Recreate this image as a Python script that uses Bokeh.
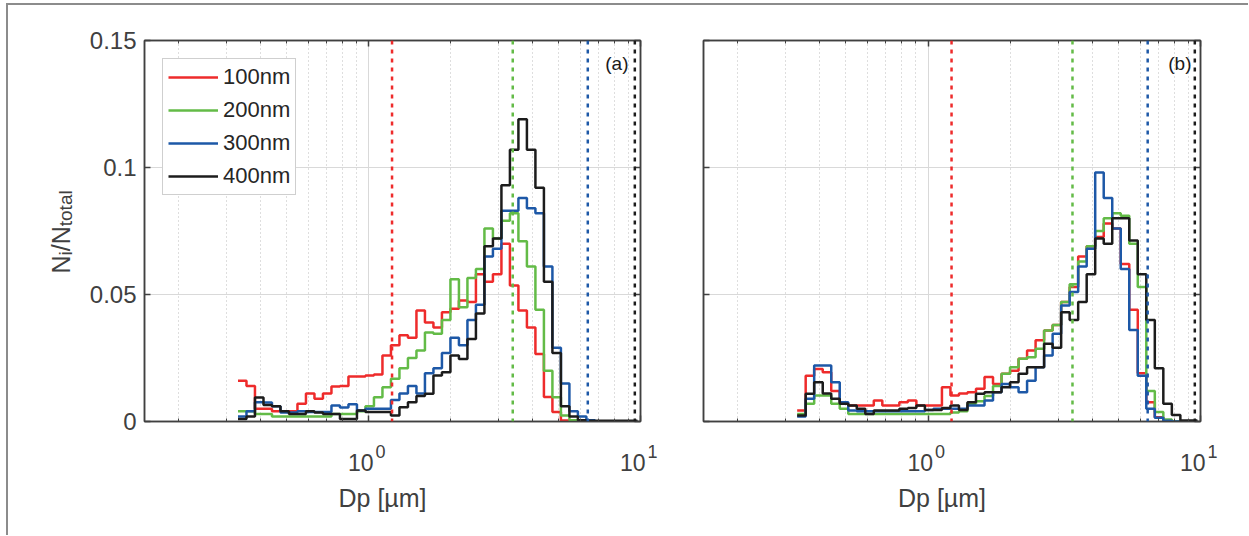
import math
from bokeh.plotting import figure
from bokeh.layouts import row, column
from bokeh.models import (LogAxis, LinearAxis, FixedTicker, Span, Label, Legend,
                          LegendItem, Range1d, CustomJSTickFormatter)
from bokeh.core.properties import value
from bokeh.embed import file_html
from bokeh.resources import INLINE

# ---------------- data ----------------
# logarithmic size bins (32 per decade), bin edges in micrometres
bin_edges = [round(0.331 * 10 ** (k / 32), 4) for k in range(48)]

series_names = ["100nm", "200nm", "300nm", "400nm"]
series_colors = ["#ee2b2b", "#63bb47", "#1d58a7", "#1c1c1c"]
cut_sizes = [1.22, 3.39, 6.40, 9.53]
y_ticks = [0, 0.05, 0.1, 0.15]
x_major_ticks = [1, 10]
x_tick_base = ["10", "10"]
x_tick_exp = ["0", "1"]
x_minor_ticks = [0.2, 0.3, 0.4, 0.5, 0.6, 0.7, 0.8, 0.9, 2, 3, 4, 5, 6, 7, 8, 9]
x_label = "Dp [\u00b5m]"
panel_tags = ["(a)", "(b)"]

# panel (a)
a_100 = [.016, .014, .005, .005, .004, .004, .004, .007, .011, .009, .011, .0138, .014, .0177,
         .0177, .0181, .0185, .026, .030, .034, .033, .0437, .039, .037, .043, .0444, .0476,
         .047, .058, .055, .058, .070, .0535, .0437, .037, .0266, .0096, .0037, .0004,
         0, 0, 0, 0, 0, 0, 0, 0]
a_200 = [.004, .004, .003, .003, .002, .002, .002, .002, .002, .002, .002, .003, .003, .003,
         .004, .006, .0095, .0135, .0168, .021, .025, .028, .035, .0345, .040, .056, .045,
         .0565, .060, .076, .072, .079, .082, .071, .061, .044, .020, .0095, .0024, .0005,
         0, 0, 0, 0, 0, 0, 0]
a_300 = [.002, .004, .0076, .0075, .006, .0035, .0035, .004, .0037, .0037, .0037, .0063, .0055,
         .0068, .0043, .005, .005, .005, .0085, .011, .014, .011, .019, .021, .027, .033, .030,
         .040, .046, .065, .068, .083, .083, .088, .084, .082, .061, .029, .015, .004, .002,
         .0005, 0, 0, 0, 0, 0]
a_400 = [.001, .002, .0094, .0065, .006, .004, .003, .003, .004, .0035, .003, .003, .001, .001,
         .0043, .0037, .0037, .0037, .0024, .0056, .0076, .010, .0109, .0181, .0194, .026,
         .0246, .0325, .0425, .069, .072, .093, .107, .119, .107, .092, .055, .027, .006, .002,
         .0005, .0003, .0003, .0003, .0003, .0003, .0003]

# panel (b)
b_100 = [.0043, .018, .0207, .0194, .012, .007, .0063, .0063, .0063, .0083, .0063, .0063, .0076,
         .0083, .0063, .0063, .0063, .0135, .0102, .011, .0115, .0129, .0175, .0148, .0188, .020,
         .0247, .028, .032, .0358, .038, .047, .053, .065, .069, .0726, .078, .076, .062, .044,
         .019, .0076, .0017, .0004, 0, 0, 0]
b_200 = [.003, .007, .0102, .0102, .007, .005, .003, .003, .003, .003, .003, .003, .003, .003,
         .003, .003, .003, .003, .0035, .004, .007, .008, .010, .014, .0188, .0214, .0247, .0253,
         .0286, .0358, .038, .047, .054, .063, .069, .075, .080, .082, .081, .070, .053, .012,
         .0037, .0008, 0, 0, 0]
b_300 = [.002, .009, .022, .022, .0155, .0076, .0043, .004, .004, .004, .004, .004, .004, .004,
         .004, .0045, .005, .005, .005, .005, .0063, .0063, .0083, .0115, .0148, .0135, .0115,
         .016, .0214, .026, .0345, .0457, .051, .061, .068, .098, .088, .076, .060, .036, .018,
         .005, .0015, .0003, 0, 0, 0]
b_400 = [.0024, .0109, .0155, .011, .009, .007, .0063, .005, .003, .0043, .0043, .0043, .005,
         .0053, .0063, .0045, .0045, .0053, .0063, .0045, .0076, .0109, .0115, .0115, .0135,
         .0155, .0188, .0214, .0214, .0306, .029, .043, .040, .047, .058, .072, .070, .080, .080,
         .0713, .058, .040, .021, .007, .0026, .0004, .0004]

panel_a = [a_100, a_200, a_300, a_400]
panel_b = [b_100, b_200, b_300, b_400]

# ---------------- style / geometry ----------------
FONT = "Liberation Sans"
AX = "#404040"
TXT = "#404040"
X_LO, X_HI = 0.15, 10
ORIGIN_X, ORIGIN_Y = 8, 5      # content origin inside the window frame
YL_W = 70                      # width of the y-label strip
FRAME_L_A = 144                # page x of the left edge of panel (a)
FRAME_TOP, FRAME_H = 40, 381
TOP_B, BOT_B = FRAME_TOP - ORIGIN_Y, 14
TOP_H = TOP_B + FRAME_H + BOT_B
STRIP_H = 100
EXT = 30                       # strip frame extends beyond the axes on each side
STRIP_TOP = ORIGIN_Y + TOP_H   # page y of the strip's top

y_fmt = CustomJSTickFormatter(code="return String(Math.round(tick * 100) / 100);")
blank_fmt = CustomJSTickFormatter(code="return '';")


def style_axis(ax, labels):
    ax.axis_line_color = AX
    ax.axis_line_width = 1.5
    ax.major_tick_line_color = AX
    ax.minor_tick_line_color = AX
    ax.major_tick_line_width = 1.5
    ax.minor_tick_line_width = 1
    ax.major_tick_in = 6
    ax.major_tick_out = 0
    ax.minor_tick_in = 3
    ax.minor_tick_out = 0
    ax.major_label_text_font = FONT
    ax.major_label_text_color = TXT
    if labels:
        ax.major_label_text_font_size = "24px"
    else:
        ax.formatter = blank_fmt
        ax.major_label_text_font_size = "0px"
        ax.major_label_standoff = 0


def make_panel(data, left_b, right_b, frame_w, tag, tag_pad, show_ylabels, with_legend):
    p = figure(width=left_b + frame_w + right_b, height=TOP_H,
               x_axis_type="log", x_range=Range1d(X_LO, X_HI), y_range=Range1d(0, 0.15),
               output_backend="svg", toolbar_location=None,
               min_border_left=left_b, min_border_right=right_b,
               min_border_top=TOP_B, min_border_bottom=BOT_B,
               background_fill_color="white", border_fill_color="white")
    p.outline_line_color = AX
    p.outline_line_width = 1.5

    xt = FixedTicker(ticks=x_major_ticks, minor_ticks=x_minor_ticks)
    yt = FixedTicker(ticks=y_ticks, minor_ticks=[])

    xb = p.xaxis[0]
    xb.ticker = xt
    style_axis(xb, False)

    yl = p.yaxis[0]
    yl.ticker = yt
    style_axis(yl, show_ylabels)
    if show_ylabels:
        yl.formatter = y_fmt
        yl.major_label_standoff = 8

    xa = LogAxis(ticker=xt)
    style_axis(xa, False)
    p.add_layout(xa, "above")
    yr = LinearAxis(ticker=yt)
    style_axis(yr, False)
    p.add_layout(yr, "right")

    p.xgrid.ticker = xt
    p.ygrid.ticker = yt
    p.xgrid.grid_line_color = "#d9d9d9"
    p.xgrid.minor_grid_line_color = "#bdbdbd"
    p.xgrid.minor_grid_line_dash = "1 3"
    p.ygrid.grid_line_color = "#d9d9d9"

    renderers = []
    for vals, col in zip(data, series_colors):
        ys = list(vals) + [vals[-1]]
        r = p.step(bin_edges, ys, mode="after", line_color=col, line_width=2.5)
        renderers.append(r)

    for v, col in zip(cut_sizes, series_colors):
        p.add_layout(Span(location=v, dimension="height", line_color=col,
                          line_width=2.5, line_dash="4 5"))

    p.add_layout(Label(x=frame_w - tag_pad, y=FRAME_H - 12,
                       x_units="screen", y_units="screen", text=tag,
                       text_font=FONT, text_font_size="19px", text_color="#1a1a1a",
                       text_align="right", text_baseline="top"))

    if with_legend:
        items = [LegendItem(label=n, renderers=[r]) for n, r in zip(series_names, renderers)]
        lg = Legend(items=items, location="top_left", margin=18, padding=5,
                    spacing=7, glyph_width=50, glyph_height=24, label_height=24,
                    label_standoff=5, label_text_font=FONT, label_text_font_size="22px",
                    label_text_color="#262626", border_line_color="#a0a0a0",
                    border_line_width=1, background_fill_color="white",
                    background_fill_alpha=1.0)
        p.add_layout(lg)
    return p


def make_strip(left_b, right_b, frame_w):
    # strip below a panel: same log scale as the panel, frame widened by EXT px per side
    k = math.log10(X_HI / X_LO) / frame_w
    xr = Range1d(X_LO * 10 ** (-EXT * k), X_HI * 10 ** (EXT * k))
    s = figure(width=left_b + frame_w + right_b, height=STRIP_H,
               x_axis_type="log", x_range=xr, y_range=Range1d(STRIP_H, 0),
               output_backend="svg", toolbar_location=None,
               x_axis_location=None, y_axis_location=None,
               min_border_left=left_b - EXT, min_border_right=right_b - EXT,
               min_border_top=0, min_border_bottom=0,
               background_fill_color="white", border_fill_color="white")
    s.outline_line_color = None
    s.xgrid.visible = False
    s.ygrid.visible = False
    n = len(x_major_ticks)
    s.text(x=x_major_ticks, y=[462 - STRIP_TOP] * n, text=x_tick_base,
           text_font=value(FONT), text_font_size=value("23px"), text_color=TXT,
           text_align="right", text_baseline="alphabetic", x_offset=5)
    s.text(x=x_major_ticks, y=[451 - STRIP_TOP] * n, text=x_tick_exp,
           text_font=value(FONT), text_font_size=value("18px"), text_color=TXT,
           text_align="left", text_baseline="alphabetic", x_offset=7)
    s.text(x=[math.sqrt(X_LO * X_HI)], y=[497 - STRIP_TOP], text=[x_label],
           text_font=value(FONT), text_font_size=value("25px"), text_color=TXT,
           text_align="center", text_baseline="alphabetic", x_offset=-10)
    return s


# y label strip: N_i / N_total (rotated), pixel coordinates
H_ALL = TOP_H + STRIP_H
ylab = figure(width=YL_W, height=H_ALL, x_range=Range1d(0, YL_W),
              y_range=Range1d(0, H_ALL), output_backend="svg",
              toolbar_location=None, x_axis_location=None, y_axis_location=None,
              min_border=0, background_fill_color="white", border_fill_color="white")
ylab.outline_line_color = None
ylab.xgrid.visible = False
ylab.ygrid.visible = False
big, small = 25, 19
pieces = [("N", big, 0), ("i", small, 5), ("/N", big, 0), ("total", small, 5)]
em = {"N": 0.722, "i": 0.222, "/N": 1.0, "total": 1.89}
yy = ORIGIN_Y + H_ALL - 273
for txt, fs, off in pieces:
    ylab.text(x=[60 - ORIGIN_X + off], y=[yy], text=[txt], angle=math.pi / 2,
              text_font=value(FONT), text_font_size=value(f"{fs}px"), text_color=TXT,
              text_align="left", text_baseline="alphabetic")
    yy += em[txt] * fs

LB_A = FRAME_L_A - ORIGIN_X - YL_W
pa = make_panel(panel_a, LB_A, 32, 496, panel_tags[0], 12, True, True)
pb = make_panel(panel_b, 31, 48, 497, panel_tags[1], 9, False, False)
sa = make_strip(LB_A, 32, 496)
sb = make_strip(31, 48, 497)

layout = row(ylab, column(row(pa, pb), row(sa, sb)),
             styles={"margin-left": "6px", "margin-top": "3px",
                     "border-left": "2px solid #8c8c8c",
                     "border-top": "2px solid #8c8c8c"})

open("out.html", "w").write(file_html(layout, INLINE))
